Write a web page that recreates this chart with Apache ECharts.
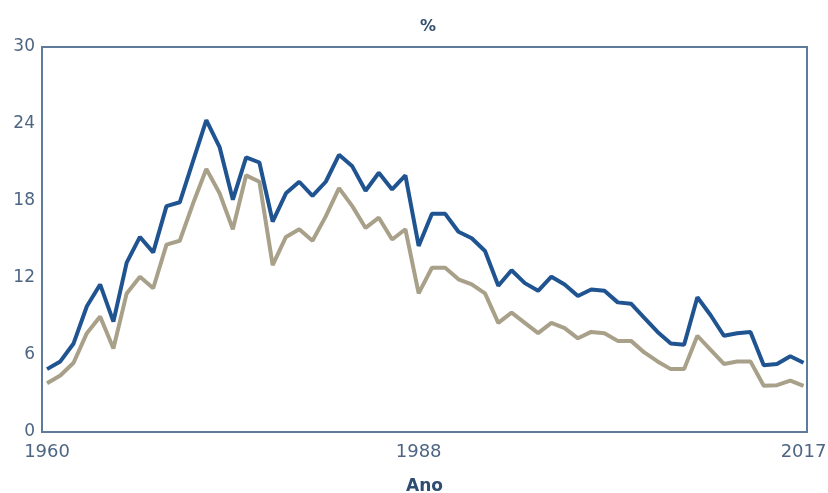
<!DOCTYPE html>
<html>
<head>
<meta charset="utf-8">
<script src="https://cdn.jsdelivr.net/npm/echarts@6/dist/echarts.min.js"></script>
<style>
html,body{margin:0;padding:0;background:#fff;}
#chart{width:828px;height:493px;}
</style>
</head>
<body>
<div id="chart"></div>
<script>
const years = [];
for (let y = 1960; y <= 2017; y++) years.push(y);

const seriesBlue = [4.9,5.5,6.9,9.8,11.5,8.6,13.2,15.2,14.0,17.6,
  17.9,21.1,24.3,22.2,18.1,21.4,21.0,16.4,18.6,19.5,
  18.4,19.5,21.6,20.7,18.8,20.2,18.9,20.0,14.5,17.0,
  17.0,15.6,15.1,14.1,11.4,12.6,11.6,11.0,12.1,11.5,
  10.6,11.1,11.0,10.1,10.0,8.9,7.8,6.9,6.8,10.5,
  9.1,7.5,7.7,7.8,5.2,5.3,5.9,5.4];

const seriesTan = [3.8,4.4,5.4,7.7,9.0,6.5,10.8,12.1,11.2,14.6,
  14.9,17.8,20.5,18.6,15.8,20.0,19.5,13.0,15.2,15.8,
  14.9,16.8,19.0,17.6,15.9,16.7,15.0,15.8,10.8,12.8,
  12.8,11.9,11.5,10.8,8.5,9.3,8.5,7.7,8.5,8.1,
  7.3,7.8,7.7,7.1,7.1,6.2,5.5,4.9,4.9,7.5,
  6.4,5.3,5.5,5.5,3.6,3.65,4.0,3.6];

const xTickLabels = [1960, 1988, 2017];

const chart = echarts.init(document.getElementById('chart'), null, {renderer: 'canvas'});
chart.setOption({
  animation: false,
  backgroundColor: '#ffffff',
  title: {
    text: '%',
    left: 415,
    top: 14,
    textStyle: {fontFamily: 'DejaVu Sans', fontSize: 16, fontWeight: 'bold', color: '#34506f'}
  },
  grid: {
    left: 42, right: 21, top: 47, bottom: 61,
    outerBoundsMode: 'none',
    containLabel: false,
    show: true,
    borderColor: '#5f7b9c',
    borderWidth: 2,
    backgroundColor: 'transparent'
  },
  xAxis: {
    type: 'value',
    min: 1959.62,
    max: 2017.26,
    name: 'Ano',
    nameLocation: 'middle',
    nameGap: 46,
    nameMoveOverlap: false,
    nameTextStyle: {fontFamily: 'DejaVu Sans', fontSize: 17, fontWeight: 'bold', color: '#2f4d70'},
    axisLine: {show: false},
    axisTick: {show: false},
    splitLine: {show: false},
    axisLabel: {
      customValues: xTickLabels,
      formatter: v => String(v),
      margin: 11,
      fontFamily: 'DejaVu Sans',
      fontSize: 18,
      color: '#4d6583'
    }
  },
  yAxis: {
    type: 'value',
    min: 0, max: 30, interval: 6,
    axisLine: {show: false},
    axisTick: {show: false},
    splitLine: {show: false},
    axisLabel: {
      margin: 7,
      fontFamily: 'DejaVu Sans',
      fontSize: 17,
      color: '#4d6583'
    }
  },
  series: [
    {
      type: 'line',
      data: years.map((y, i) => [y, seriesTan[i]]),
      symbol: 'none',
      lineStyle: {color: '#a8a089', width: 4},
      z: 2
    },
    {
      type: 'line',
      data: years.map((y, i) => [y, seriesBlue[i]]),
      symbol: 'none',
      lineStyle: {color: '#1f5491', width: 4},
      z: 3
    }
  ]
});
</script>
</body>
</html>
